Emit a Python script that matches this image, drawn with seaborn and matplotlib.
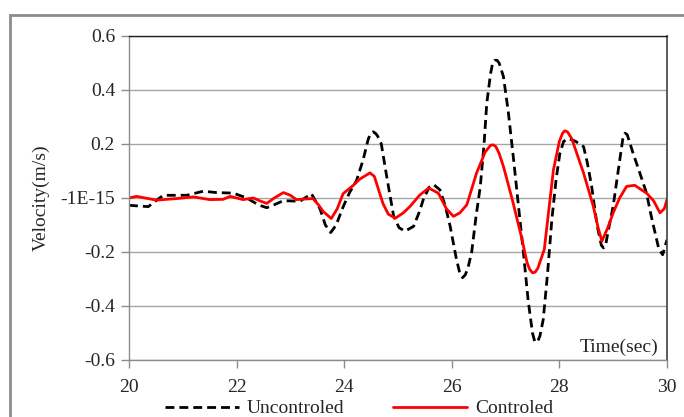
import numpy as np
import pandas as pd
import matplotlib
matplotlib.use("Agg")
import matplotlib.pyplot as plt
import matplotlib.patches as patches
import seaborn as sns

# Velocity response
t_unc = [20.0, 20.2, 20.36, 20.5, 20.64, 21.07, 21.38, 21.63, 21.94, 22.19, 22.4, 22.56,
         22.7, 22.87, 23.18, 23.39, 23.55, 23.65, 23.75, 23.85, 23.98, 24.1, 24.23, 24.35,
         24.45, 24.5, 24.54, 24.58, 24.62, 24.69, 24.79, 24.86, 24.92, 25.02, 25.13, 25.29,
         25.4, 25.47, 25.58, 25.66, 25.78, 25.88, 25.97, 26.08, 26.15, 26.2, 26.25, 26.3,
         26.37, 26.45, 26.53, 26.6, 26.65, 26.72, 26.76, 26.8, 26.84, 26.88, 26.96, 27.05,
         27.15, 27.24, 27.33, 27.42, 27.5, 27.54, 27.57, 27.6, 27.64, 27.7, 27.78, 27.86,
         27.94, 28.01, 28.08, 28.17, 28.3, 28.45, 28.52, 28.6, 28.7, 28.78, 28.82, 28.86,
         28.9, 29.0, 29.1, 29.18, 29.22, 29.26, 29.3, 29.37, 29.5, 29.62, 29.7, 29.78,
         29.85, 29.92, 30.0]
v_unc = [-0.027, -0.03, -0.032, -0.01, 0.01, 0.01, 0.025, 0.02, 0.018, 0.0, -0.025, -0.036,
         -0.025, -0.01, -0.012, 0.016, -0.04, -0.1, -0.128, -0.1, -0.033, 0.02, 0.065, 0.14,
         0.22, 0.24, 0.245, 0.24, 0.23, 0.2, 0.08, 0.0, -0.068, -0.11, -0.123, -0.105,
         -0.05, -0.006, 0.04, 0.05, 0.03, -0.03, -0.105, -0.22, -0.28, -0.295, -0.285, -0.26,
         -0.2, -0.07, 0.043, 0.2, 0.35, 0.46, 0.5, 0.51, 0.51, 0.5, 0.45, 0.32,
         0.14, -0.03, -0.2, -0.38, -0.5, -0.53, -0.535, -0.53, -0.51, -0.45, -0.28, -0.08,
         0.07, 0.166, 0.21, 0.22, 0.21, 0.19, 0.13, 0.043, -0.1, -0.175, -0.185, -0.175,
         -0.13, -0.03, 0.11, 0.22, 0.24, 0.235, 0.21, 0.166, 0.09, 0.018, -0.06, -0.13,
         -0.19, -0.21, -0.155]

t_ctl = [20.0, 20.14, 20.3, 20.51, 20.89, 21.2, 21.5, 21.75, 21.88, 22.12, 22.31, 22.45,
         22.56, 22.7, 22.87, 23.0, 23.11, 23.42, 23.52, 23.61, 23.76, 23.87, 23.98, 24.17,
         24.29, 24.48, 24.56, 24.64, 24.72, 24.82, 24.95, 25.1, 25.23, 25.4, 25.57, 25.75,
         25.9, 26.03, 26.15, 26.28, 26.46, 26.62, 26.72, 26.77, 26.82, 26.88, 26.96, 27.13,
         27.29, 27.4, 27.45, 27.5, 27.55, 27.6, 27.72, 27.8, 27.89, 28.0, 28.06, 28.1,
         28.15, 28.23, 28.35, 28.45, 28.63, 28.72, 28.79, 28.9, 29.0, 29.12, 29.25, 29.4,
         29.62, 29.75, 29.87, 29.95, 30.0]
v_ctl = [0.0, 0.006, 0.0, -0.008, -0.002, 0.004, -0.006, -0.005, 0.006, -0.006, 0.0, -0.012,
         -0.02, 0.0, 0.02, 0.01, -0.006, -0.002, -0.025, -0.05, -0.076, -0.04, 0.016, 0.047,
         0.07, 0.093, 0.08, 0.03, -0.02, -0.06, -0.075, -0.055, -0.03, 0.01, 0.037, 0.018,
         -0.04, -0.068, -0.055, -0.025, 0.092, 0.17, 0.195, 0.197, 0.19, 0.165, 0.117, -0.01,
         -0.14, -0.24, -0.265, -0.277, -0.275, -0.26, -0.19, -0.05, 0.105, 0.21, 0.24, 0.249,
         0.245, 0.22, 0.15, 0.092, -0.03, -0.11, -0.16, -0.11, -0.055, 0.0, 0.043, 0.047,
         0.018, -0.01, -0.055, -0.04, -0.006]

y_ticks = [-0.6, -0.4, -0.2, 0.0, 0.2, 0.4, 0.6]
y_tick_labels = ["-0.6", "-0.4", "-0.2", "-1E-15", "0.2", "0.4", "0.6"]
x_ticks = [20, 22, 24, 26, 28, 30]

sns.set_style("white")
plt.rcParams["font.family"] = ["Liberation Serif", "DejaVu Serif"]
FS = 14

df = pd.concat([
    pd.DataFrame({"t": t_unc, "v": v_unc, "case": "Uncontroled"}),
    pd.DataFrame({"t": t_ctl, "v": v_ctl, "case": "Controled"}),
])

fig = plt.figure(figsize=(6.84, 4.17), dpi=100)
ax = fig.add_axes([0.1886, 0.1367, 0.7865, 0.777])

# horizontal gridlines
for yv in y_ticks:
    ax.axhline(yv, color="#a6a6a6", lw=1.0, zorder=0)

sns.lineplot(data=df[df.case == "Uncontroled"], x="t", y="v", ax=ax, color="black",
             lw=2.0, linestyle=(0, (3.2, 1.8)), label="Uncontroled", sort=False)
sns.lineplot(data=df[df.case == "Controled"], x="t", y="v", ax=ax, color="#ff0000",
             lw=2.0, label="Controled", sort=False)
for ln in ax.lines:
    ln.set_solid_joinstyle("round")
    ln.set_dash_joinstyle("round")

ax.set_xlim(20, 30)
ax.set_ylim(-0.6, 0.6)
ax.set_xticks(x_ticks)
ax.set_yticks(y_ticks)
ax.set_yticklabels(y_tick_labels)
ax.tick_params(axis="both", labelsize=FS, length=6, width=1, color="#8c8c8c",
               direction="out", pad=4, left=True, bottom=True)
ax.tick_params(axis="x", pad=8)
ax.set_xlabel("")
ax.set_ylabel("Velocity(m/s)", fontsize=FS, labelpad=8)

for side in ["left", "bottom"]:
    ax.spines[side].set_color("#8c8c8c")
    ax.spines[side].set_linewidth(1.0)
ax.spines["top"].set_color("#202020")
ax.spines["top"].set_linewidth(1.0)
ax.spines["right"].set_color("#404040")
ax.spines["right"].set_linewidth(1.2)

ax.text(0.985, 0.012, "Time(sec)", transform=ax.transAxes, ha="right", va="bottom",
        fontsize=FS)

handles, labels = ax.get_legend_handles_labels()
ax.get_legend().remove()
fig.legend(handles, labels, loc="center", bbox_to_anchor=(0.525, 0.02), ncol=2,
           frameon=False, fontsize=FS, handlelength=3.8, columnspacing=2.5,
           handletextpad=0.4)

# outer chart border
fig.patches.append(patches.Rectangle((10 / 684, -0.1), 1.2, 1 - 15 / 417 + 0.1,
                                     transform=fig.transFigure, fill=False,
                                     edgecolor="#8c8c8c", lw=2.0, clip_on=False))

fig.savefig("out.png", dpi=100)
